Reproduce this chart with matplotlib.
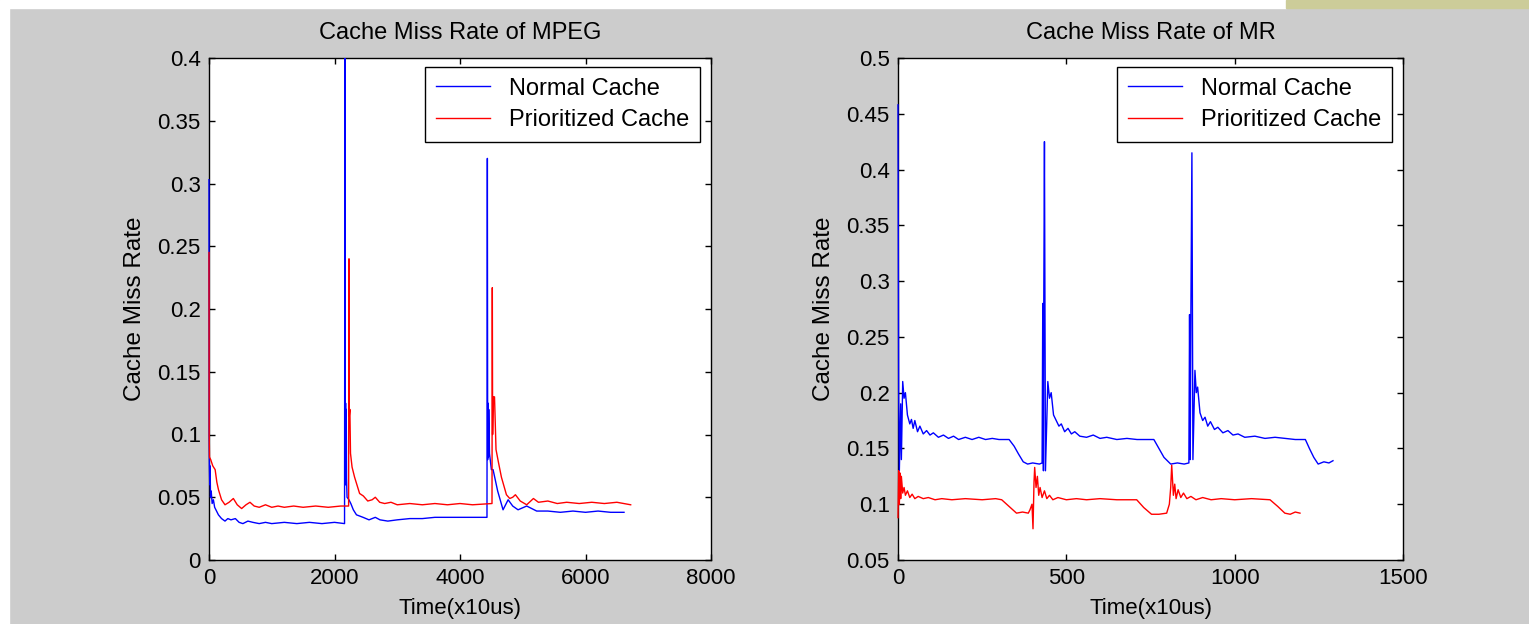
import matplotlib
matplotlib.use("Agg")
import matplotlib.pyplot as plt
from matplotlib.patches import Rectangle
from matplotlib.transforms import Bbox, TransformedBbox

plt.rcParams["font.family"] = ["Liberation Sans", "DejaVu Sans"]

# ---- MPEG data (time in x10us, miss rate) ----
mpeg_normal_t = [0, 2, 6, 12, 18, 24, 35, 50, 70, 90, 110, 150, 200, 255, 300, 350, 420, 480,
                 540, 620, 700, 800, 900, 1000, 1200, 1400, 1600, 1800, 2000, 2160,
                 2167, 2172, 2177, 2182, 2187, 2192, 2200, 2230, 2260, 2300, 2350, 2455,
                 2550, 2650, 2725, 2850, 3000, 3200, 3400, 3600, 3800, 4000, 4200, 4430,
                 4436, 4441, 4446, 4452, 4458, 4470, 4500, 4527, 4600, 4686, 4767, 4840,
                 4925, 5063, 5222, 5400, 5600, 5800, 6000, 6200, 6400, 6614]
mpeg_normal_v = [0.303, 0.1, 0.075, 0.06, 0.075, 0.05, 0.055, 0.045, 0.048, 0.042, 0.04, 0.036,
                 0.033, 0.031, 0.033, 0.032, 0.033, 0.03, 0.029, 0.031, 0.030, 0.029, 0.030,
                 0.029, 0.030, 0.029, 0.030, 0.029, 0.030, 0.029,
                 0.42, 0.06, 0.125, 0.06, 0.12, 0.065, 0.05, 0.048, 0.045, 0.04, 0.036, 0.034,
                 0.032, 0.034, 0.032, 0.031, 0.032, 0.033, 0.033, 0.034, 0.034, 0.034, 0.034,
                 0.034, 0.32, 0.08, 0.125, 0.082, 0.12, 0.085, 0.072, 0.072, 0.055, 0.040,
                 0.048, 0.043, 0.040, 0.043, 0.039, 0.039, 0.038, 0.039, 0.038, 0.039, 0.038,
                 0.038]

mpeg_prio_t = [0, 3, 8, 27, 60, 98, 125, 151, 200, 255, 320, 388, 450, 520, 590, 653, 720,
               800, 900, 1000, 1100, 1200, 1350, 1500, 1700, 1900, 2100, 2225,
               2231, 2236, 2245, 2255, 2280, 2320, 2400, 2460, 2530, 2600, 2650, 2720,
               2800, 2900, 3000, 3200, 3400, 3600, 3800, 4000, 4200, 4510,
               4515, 4520, 4530, 4550, 4574, 4612, 4660, 4740, 4793, 4840, 4883, 4960,
               5063, 5170, 5250, 5400, 5550, 5700, 5900, 6100, 6300, 6500, 6720]
mpeg_prio_v = [0.245, 0.1, 0.082, 0.08, 0.075, 0.072, 0.062, 0.056, 0.048, 0.044, 0.046,
               0.049, 0.044, 0.041, 0.044, 0.046, 0.043, 0.042, 0.044, 0.042, 0.043, 0.042,
               0.043, 0.042, 0.043, 0.042, 0.043, 0.043,
               0.24, 0.115, 0.12, 0.085, 0.074, 0.066, 0.053, 0.051, 0.047, 0.048, 0.05,
               0.046, 0.045, 0.046, 0.044, 0.045, 0.044, 0.045, 0.044, 0.045, 0.044, 0.045,
               0.217, 0.1, 0.13, 0.13, 0.088, 0.078, 0.066, 0.052, 0.049, 0.05, 0.052, 0.047,
               0.044, 0.049, 0.046, 0.047, 0.045, 0.046, 0.045, 0.046, 0.045, 0.046, 0.044]

# ---- MR data ----
mr_normal_t = [0, 2, 4, 8, 10, 14, 18, 22, 28, 35, 40, 45, 50, 58, 65, 75, 85, 95, 105, 120,
               135, 150, 165, 180, 200, 220, 240, 260, 280, 300, 330, 345, 358, 372, 385,
               400, 420, 428, 430, 432, 433, 435, 438, 445, 450, 455, 462, 470, 478, 485,
               495, 505, 515, 525, 540, 560, 580, 600, 620, 650, 680, 710, 760, 775, 790,
               810, 830, 850, 864, 866, 868, 870, 873, 876, 882, 886, 890, 897, 905, 912,
               920, 928, 940, 950, 965, 980, 995, 1010, 1030, 1060, 1090, 1120, 1150, 1180,
               1210, 1222, 1235, 1248, 1265, 1280, 1292]
mr_normal_v = [0.458, 0.2, 0.13, 0.19, 0.14, 0.21, 0.195, 0.2, 0.18, 0.172, 0.176, 0.168,
               0.175, 0.165, 0.17, 0.163, 0.166, 0.162, 0.164, 0.16, 0.162, 0.159, 0.161,
               0.158, 0.16, 0.158, 0.16, 0.158, 0.159, 0.158, 0.158, 0.152, 0.145, 0.138,
               0.136, 0.137, 0.136, 0.137, 0.28, 0.13, 0.28, 0.425, 0.13, 0.21, 0.195, 0.2,
               0.18, 0.175, 0.17, 0.172, 0.165, 0.168, 0.163, 0.165, 0.161, 0.16, 0.162,
               0.159, 0.16, 0.158, 0.159, 0.158, 0.158, 0.15, 0.142, 0.136, 0.137, 0.136,
               0.137, 0.27, 0.14, 0.275, 0.415, 0.14, 0.22, 0.2, 0.205, 0.182, 0.175, 0.178,
               0.17, 0.174, 0.167, 0.169, 0.164, 0.166, 0.162, 0.163, 0.16, 0.161, 0.159,
               0.16, 0.159, 0.158, 0.158, 0.15, 0.142, 0.136, 0.138, 0.137, 0.139]

mr_prio_t = [0, 2, 4, 6, 8, 10, 14, 18, 22, 28, 35, 42, 50, 60, 75, 90, 110, 130, 160, 200,
             250, 290, 308, 330, 352, 370, 387, 392, 398, 401, 404, 406, 410, 414, 418, 422,
             428, 435, 442, 450, 460, 475, 500, 530, 560, 600, 650, 709, 730, 753, 775, 798,
             806, 810, 813, 818, 822, 826, 832, 840, 848, 858, 870, 885, 905, 930, 960,
             1000, 1050, 1105, 1128, 1149, 1165, 1180, 1194]
mr_prio_v = [0.088, 0.13, 0.1, 0.128, 0.105, 0.125, 0.11, 0.115, 0.108, 0.112, 0.106, 0.109,
             0.105, 0.107, 0.105, 0.106, 0.104, 0.105, 0.104, 0.105, 0.104, 0.105, 0.104,
             0.098, 0.092, 0.093, 0.092, 0.095, 0.1, 0.078, 0.12, 0.133, 0.115, 0.125, 0.108,
             0.115, 0.106, 0.112, 0.105, 0.108, 0.104, 0.106, 0.104, 0.105, 0.104, 0.105,
             0.104, 0.104, 0.097, 0.091, 0.091, 0.092, 0.1, 0.115, 0.135, 0.108, 0.118, 0.105,
             0.113, 0.106, 0.11, 0.105, 0.107, 0.104, 0.106, 0.104, 0.105, 0.104, 0.105,
             0.104, 0.098, 0.092, 0.091, 0.093, 0.092]

mpeg_yticks = [0, 0.05, 0.1, 0.15, 0.2, 0.25, 0.3, 0.35, 0.4]
mpeg_ylabels = ["0", "0.05", "0.1", "0.15", "0.2", "0.25", "0.3", "0.35", "0.4"]
mpeg_xticks = [0, 2000, 4000, 6000, 8000]
mr_yticks = [0.05, 0.1, 0.15, 0.2, 0.25, 0.3, 0.35, 0.4, 0.45, 0.5]
mr_ylabels = ["0.05", "0.1", "0.15", "0.2", "0.25", "0.3", "0.35", "0.4", "0.45", "0.5"]
mr_xticks = [0, 500, 1000, 1500]

W, H = 1529, 624
fig = plt.figure(figsize=(W / 100, H / 100), dpi=100, facecolor="#cccccc")

# white border strips and beige tab like the screenshot
fig.patches.append(Rectangle((0, 0), 9 / W, 1, transform=fig.transFigure, color="white", zorder=0))
fig.patches.append(Rectangle((0, 1 - 8 / H), 1286 / W, 8 / H, transform=fig.transFigure, color="white", zorder=0))
fig.patches.append(Rectangle((1286 / W, 1 - 8 / H), 1 - 1286 / W, 8 / H, transform=fig.transFigure, color="#cccc99", zorder=0))

fs = 16


def setup(ax, title, xticks, yticks, ylabels, xlim, ylim):
    ax.set_xlim(xlim)
    ax.set_ylim(ylim)
    ax.set_xticks(xticks)
    ax.set_xticklabels([str(t) for t in xticks])
    ax.set_yticks(yticks)
    ax.set_yticklabels(ylabels)
    ax.tick_params(direction="in", length=4, width=1, top=True, right=True,
                   labelsize=fs, pad=6, colors="black")
    for s in ax.spines.values():
        s.set_linewidth(1)
    ax.set_title(title, fontsize=17, pad=14)
    ax.set_xlabel("Time(x10us)", fontsize=fs, labelpad=6)
    ax.set_ylabel("Cache Miss Rate", fontsize=17.5, labelpad=8)
    ax.set_facecolor("white")


def draw(ax, t1, v1, t2, v2):
    # let the lines sitting on x=0 show over the left spine, as in the original
    clip = TransformedBbox(Bbox([[-0.004, 0], [1, 1]]), ax.transAxes)
    for t, v, c, lab in ((t1, v1, "#0000ff", "Normal Cache"), (t2, v2, "#ff0000", "Prioritized Cache")):
        ln, = ax.plot(t, v, color=c, lw=1.0, label=lab, zorder=3)
        ln.set_clip_box(clip)


ax1 = fig.add_axes([209 / W, 64 / H, 502 / W, 502 / H])
draw(ax1, mpeg_normal_t, mpeg_normal_v, mpeg_prio_t, mpeg_prio_v)
setup(ax1, "Cache Miss Rate of MPEG", mpeg_xticks, mpeg_yticks, mpeg_ylabels, (0, 8000), (0, 0.4))

ax2 = fig.add_axes([898 / W, 64 / H, 505 / W, 502 / H])
draw(ax2, mr_normal_t, mr_normal_v, mr_prio_t, mr_prio_v)
setup(ax2, "Cache Miss Rate of MR", mr_xticks, mr_yticks, mr_ylabels, (0, 1500), (0.05, 0.5))

for ax, w in ((ax1, 502), (ax2, 505)):
    leg = ax.legend(loc="upper right", bbox_to_anchor=(1 - 11 / w, 1 - 9 / 502),
                    borderaxespad=0, fontsize=fs + 1, fancybox=False, framealpha=1,
                    edgecolor="black", handlelength=2.3, handletextpad=0.8,
                    borderpad=0.45, labelspacing=0.4)
    leg.get_frame().set_linewidth(1)
    leg.set_zorder(5)

plt.savefig("out.png", dpi=100, facecolor=fig.get_facecolor())
